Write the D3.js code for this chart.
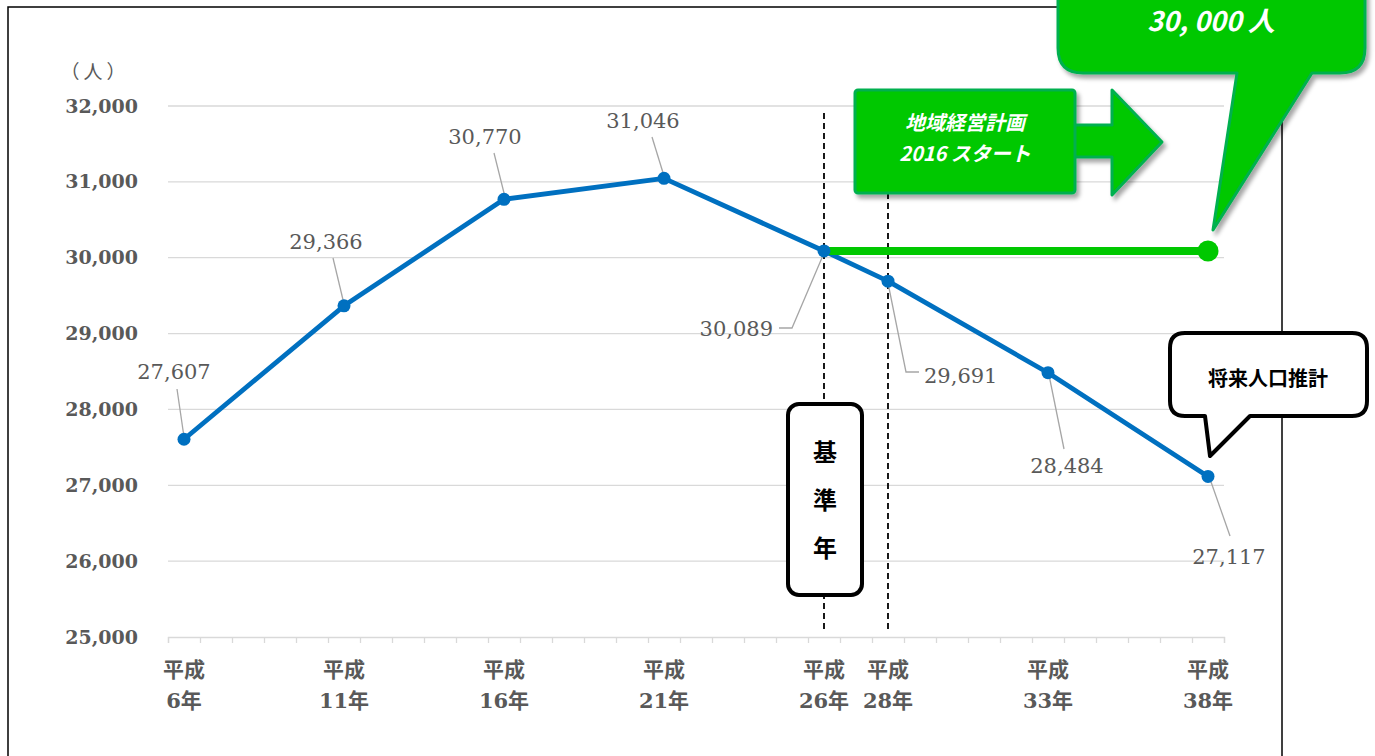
<!DOCTYPE html>
<html><head><meta charset="utf-8">
<script src="https://cdn.jsdelivr.net/npm/d3@7/dist/d3.min.js"></script>
<style>
html,body{margin:0;padding:0;background:#fff;overflow:hidden}
svg{display:block}
</style></head><body>
<svg id="c" width="1375" height="756"></svg>
<script>
// ---- data ----
const years = [6, 11, 16, 21, 26, 28, 33, 38];
const yearLabels = ["6年", "11年", "16年", "21年", "26年", "28年", "33年", "38年"];
const population = [27607, 29366, 30770, 31046, 30089, 29691, 28484, 27117];
const targetYears = [26, 38];
const targetValues = [30089, 30089];
const yTicks = [25000, 26000, 27000, 28000, 29000, 30000, 31000, 32000];
const refYears = [26, 28];
const eraLabel = "平成";
const unitLabel = "（人）";
const planLines = ["地域経営計画", "2016 スタート"];
const targetText = "30, 000 人";
const baseYearChars = ["基", "準", "年"];
const projectionText = "将来人口推計";

// ---- layout (label positions and leader paths) ----
const labelLayout = [
  {lx:174, ly:379, anchor:"middle", leader:[[177,389],[184,437]]},
  {lx:326, ly:249, anchor:"middle", leader:[[333,258],[344,304]]},
  {lx:485, ly:144, anchor:"middle", leader:[[494,153],[505,197]]},
  {lx:643, ly:128, anchor:"middle", leader:[[652,137],[664,176]]},
  {lx:773, ly:336, anchor:"end",    leader:[[779,328],[792,328],[824,253]]},
  {lx:924, ly:383, anchor:"start",  leader:[[888,283],[906,372],[919,372]]},
  {lx:1067,ly:473, anchor:"middle", leader:[[1049,375],[1064,449]]},
  {lx:1229,ly:564, anchor:"middle", leader:[[1210,479],[1230,536]]}
];

const svg = d3.select("#c");
const defs = svg.append("defs");
const f = defs.append("filter").attr("id","sh").attr("x","-20%").attr("y","-20%").attr("width","150%").attr("height","150%");
f.append("feDropShadow").attr("dx",3).attr("dy",4).attr("stdDeviation",2).attr("flood-color","#000").attr("flood-opacity",0.35);

const x = d3.scaleLinear().domain([5.5, 38.5]).range([168, 1224]);
const y = d3.scaleLinear().domain([25000, 32000]).range([637, 106]);

const serif = "'DejaVu Serif', 'Noto Sans CJK JP', serif";
const cjk = "'Noto Sans CJK JP', sans-serif";
const gray = "#595959";

// frame
svg.append("rect").attr("x",8).attr("y",7).attr("width",1274).attr("height",800)
  .attr("fill","none").attr("stroke","#000").attr("stroke-width",1.5);

// gridlines
svg.append("g").selectAll("line").data(yTicks.slice(1)).join("line")
  .attr("x1",168).attr("x2",1224).attr("y1",d=>y(d)).attr("y2",d=>y(d))
  .attr("stroke","#d9d9d9").attr("stroke-width",1.3);

// y axis
const ya = svg.append("g").attr("transform","translate(168,0)")
  .call(d3.axisLeft(y).tickValues(yTicks).tickSize(0).tickPadding(30).tickFormat(d3.format(",")));
ya.select(".domain").remove();
ya.selectAll("text").attr("font-family",serif).attr("font-weight","bold").attr("font-size",19).attr("fill",gray);

// x axis with boundary ticks
const boundaries = d3.range(5.5, 38.6, 1);
const xa = svg.append("g").attr("transform","translate(0,637)")
  .call(d3.axisBottom(x).tickValues(boundaries).tickSize(6).tickFormat(""));
xa.select(".domain").attr("stroke","#d9d9d9").attr("stroke-width",1.3);
xa.selectAll(".tick line").attr("stroke","#d9d9d9").attr("stroke-width",1.3);

// x labels
const xl = svg.append("g").selectAll("text").data(years).join("text")
  .attr("x",d=>x(d)).attr("y",677).attr("text-anchor","middle")
  .attr("font-family",serif).attr("font-weight","bold").attr("font-size",21).attr("fill",gray);
xl.append("tspan").attr("x",d=>x(d)).attr("dy",0).text(eraLabel);
xl.append("tspan").attr("x",d=>x(d)).attr("dy",31).text((d,i)=>yearLabels[i]);

// unit
svg.append("text").attr("x",95).attr("y",79).attr("text-anchor","middle")
  .attr("font-family",cjk).attr("font-size",19).attr("letter-spacing",4).attr("fill",gray).text(unitLabel);

// reference dashed lines
svg.append("g").selectAll("line").data(refYears).join("line")
  .attr("x1",d=>x(d)).attr("x2",d=>x(d)).attr("y1",113).attr("y2",633)
  .attr("stroke","#000").attr("stroke-width",1.8).attr("stroke-dasharray","6,4");

// leader lines
svg.append("g").selectAll("path").data(labelLayout).join("path")
  .attr("d",d=>d3.line()(d.leader)).attr("fill","none").attr("stroke","#a6a6a6").attr("stroke-width",1.3);

// main line
const pts = years.map((yr,i)=>[yr,population[i]]);
svg.append("path").datum(pts).attr("fill","none").attr("stroke","#0070C0").attr("stroke-width",4.8)
  .attr("stroke-linejoin","round")
  .attr("d",d3.line().x(d=>x(d[0])).y(d=>y(d[1])));

// target line
const tpts = targetYears.map((yr,i)=>[yr,targetValues[i]]);
svg.append("path").datum(tpts).attr("fill","none").attr("stroke","#00C800").attr("stroke-width",8)
  .attr("d",d3.line().x(d=>x(d[0])).y(d=>y(d[1])));
svg.append("circle").attr("cx",x(targetYears[1])).attr("cy",y(targetValues[1])).attr("r",10.5).attr("fill","#00C800");

// markers
svg.append("g").selectAll("circle").data(pts).join("circle")
  .attr("cx",d=>x(d[0])).attr("cy",d=>y(d[1])).attr("r",6.5).attr("fill","#0070C0");

// data labels
svg.append("g").selectAll("text").data(population).join("text")
  .attr("x",(d,i)=>labelLayout[i].lx).attr("y",(d,i)=>labelLayout[i].ly)
  .attr("text-anchor",(d,i)=>labelLayout[i].anchor)
  .attr("font-family",serif).attr("font-size",21).attr("fill",gray)
  .text(d=>d3.format(",")(d));

// green plan arrow
const g1 = svg.append("g").attr("filter","url(#sh)");
g1.append("path").attr("d","M1074,125 L1112,125 L1112,90 L1162,142 L1112,195 L1112,157 L1074,157 Z")
  .attr("fill","#00C800").attr("stroke","#00B050").attr("stroke-width",3).attr("stroke-linejoin","round");
g1.append("rect").attr("x",855).attr("y",90).attr("width",220).attr("height",103).attr("rx",3)
  .attr("fill","#00C800").attr("stroke","#00B050").attr("stroke-width",3);
svg.append("g").selectAll("text").data(planLines).join("text")
  .attr("x",965).attr("y",(d,i)=>130+i*31).attr("text-anchor","middle")
  .attr("font-family",cjk).attr("font-weight","bold").attr("font-style","italic")
  .attr("font-size",20).attr("fill","#fff").text(d=>d);

// top target callout
const g2 = svg.append("g").attr("filter","url(#sh)");
g2.append("path").attr("d","M1083,-60 L1340,-60 Q1365,-60 1365,-35 L1365,48 Q1365,73 1340,73 L1312,73 L1213,230 L1237,73 L1083,73 Q1058,73 1058,48 L1058,-35 Q1058,-60 1083,-60 Z")
  .attr("fill","#00C800").attr("stroke","#00B050").attr("stroke-width",3).attr("stroke-linejoin","round");
svg.append("text").attr("x",1211).attr("y",31).attr("text-anchor","middle")
  .attr("font-family",cjk).attr("font-weight","bold").attr("font-style","italic")
  .attr("font-size",27).attr("fill","#fff").text(targetText);

// base year box
svg.append("rect").attr("x",788).attr("y",404).attr("width",74).attr("height",191).attr("rx",11)
  .attr("fill","#fff").attr("stroke","#000").attr("stroke-width",4);
svg.append("g").selectAll("text").data(baseYearChars).join("text")
  .attr("x",825).attr("y",(d,i)=>461+i*48).attr("text-anchor","middle")
  .attr("font-family",cjk).attr("font-weight","bold").attr("font-size",24).attr("fill","#000").text(d=>d);

// projection callout
svg.append("path").attr("d","M1185,333 L1352,333 Q1367,333 1367,348 L1367,401 Q1367,416 1352,416 L1250,416 L1210,456 L1205,416 L1185,416 Q1170,416 1170,401 L1170,348 Q1170,333 1185,333 Z")
  .attr("fill","#fff").attr("stroke","#000").attr("stroke-width",4).attr("stroke-linejoin","round");
svg.append("text").attr("x",1268).attr("y",386).attr("text-anchor","middle")
  .attr("font-family",cjk).attr("font-weight","bold").attr("font-size",20).attr("fill","#000").text(projectionText);
</script></body></html>
